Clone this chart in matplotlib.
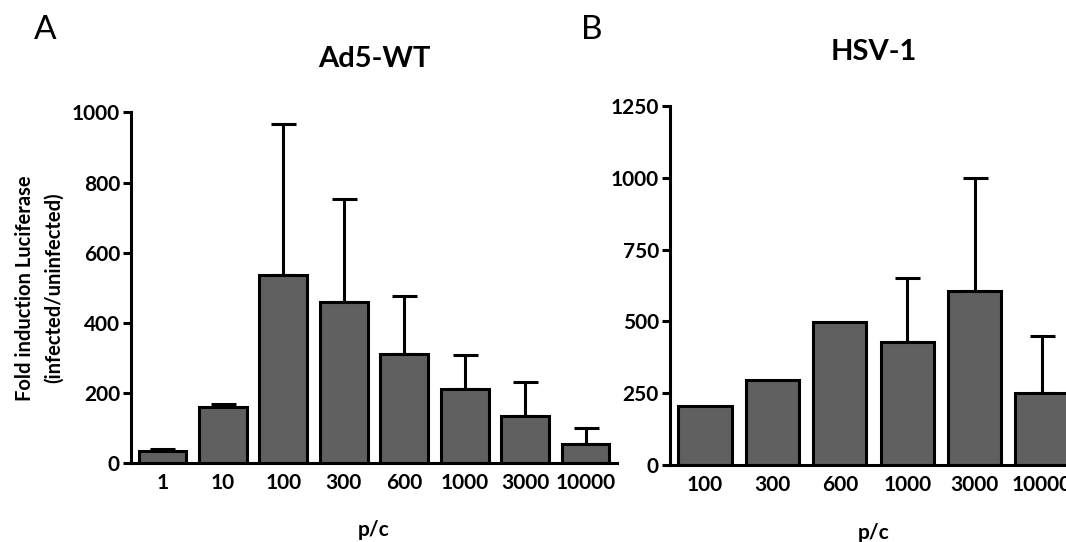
import numpy as np
import matplotlib
matplotlib.use("Agg")
from matplotlib import pyplot as plt

plt.rcParams['font.family'] = ['Lato', 'DejaVu Sans']

# Panel A: Ad5-WT
a_labels = ['1', '10', '100', '300', '600', '1000', '3000', '10000']
a_means = [33, 160, 535, 460, 310, 210, 135, 55]
a_err = [6, 8, 433, 292, 167, 99, 95, 46]

# Panel B: HSV-1
b_labels = ['100', '300', '600', '1000', '3000', '10000']
b_means = [207, 295, 497, 430, 607, 250]
b_err = [0, 0, 0, 222, 393, 198]

bar_color = '#606060'
lw = 2.2


def draw_panel(ax, labels, means, errs, ymax, yticks, title):
    x = np.arange(len(labels))
    errs = np.asarray(errs, dtype=float)
    has = errs > 0
    # upper error bars only, drawn behind the bars
    ax.errorbar(x[has], np.asarray(means)[has], yerr=[np.zeros(has.sum()), errs[has]],
                fmt='none', ecolor='black', elinewidth=lw, capsize=9, capthick=lw, zorder=1)
    ax.bar(x, means, width=0.79, color=bar_color, edgecolor='black', linewidth=lw, zorder=2)
    ax.set_xlim(-0.52, len(labels) - 0.48)
    ax.set_ylim(0, ymax)
    ax.set_yticks(yticks)
    ax.set_xticks(x)
    ax.set_xticklabels(labels)
    for s in ['top', 'right']:
        ax.spines[s].set_visible(False)
    for s in ['left', 'bottom']:
        ax.spines[s].set_linewidth(lw)
    ax.tick_params(axis='y', length=6, width=lw, labelsize=15, pad=2)
    ax.tick_params(axis='x', length=0, labelsize=15, pad=7)
    for t in ax.get_xticklabels() + ax.get_yticklabels():
        t.set_fontweight('bold')
    ax.set_xlabel('p/c', fontsize=15, fontweight='bold', labelpad=20)
    ax.set_title(title, fontsize=21, fontweight='bold', pad=33)
    ax.patch.set_visible(False)


fig = plt.figure(figsize=(10.66, 5.42), dpi=100)
ax1 = fig.add_axes([0.1229, 0.1458, 0.4559, 0.6467])
ax2 = fig.add_axes([0.6285, 0.142, 0.3818, 0.6624])

draw_panel(ax1, a_labels, a_means, a_err, 1000, [0, 200, 400, 600, 800, 1000], 'Ad5-WT')
draw_panel(ax2, b_labels, b_means, b_err, 1250, [0, 250, 500, 750, 1000, 1250], 'HSV-1')

ax1.set_ylabel('Fold induction Luciferase\n(infected/uninfected)', fontsize=14.5,
               fontweight='bold', labelpad=6, linespacing=1.55)

fig.text(0.042, 0.945, 'A', fontsize=24, va='center', ha='center')
fig.text(0.555, 0.945, 'B', fontsize=24, va='center', ha='center')

fig.savefig('out.png', dpi=100)
